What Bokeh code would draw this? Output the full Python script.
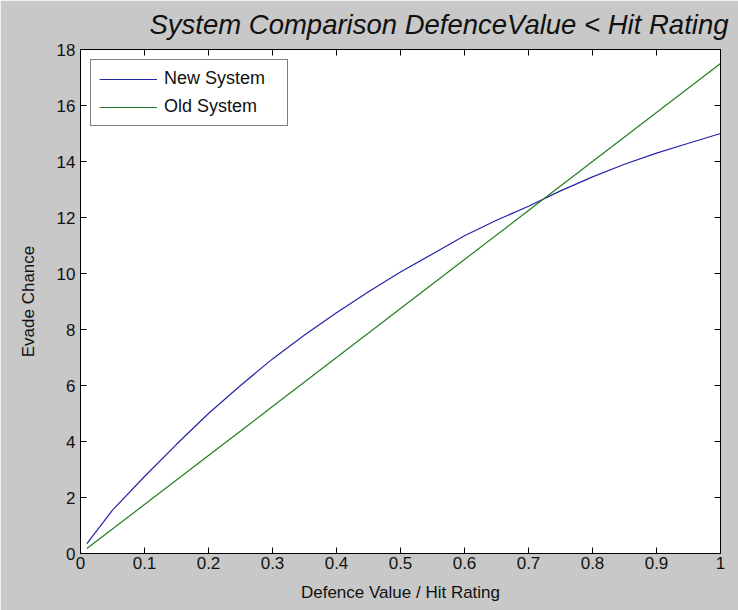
from bokeh.plotting import figure
from bokeh.models import Range1d, FixedTicker, LinearAxis, Legend, CustomLabelingPolicy
from bokeh.embed import file_html
from bokeh.resources import INLINE

# ---- data ----
title_text = "System Comparison DefenceValue < Hit Rating"
x_label = "Defence Value / Hit Rating"
y_label = "Evade Chance"

x_new = [0.01, 0.05, 0.10, 0.15, 0.20, 0.25, 0.30, 0.35, 0.40, 0.45, 0.50,
         0.55, 0.60, 0.65, 0.70, 0.75, 0.80, 0.85, 0.90, 0.95, 1.00]
new_system = [0.35, 1.55, 2.75, 3.9, 5.0, 6.0, 6.95, 7.8, 8.6, 9.35, 10.05,
              10.7, 11.35, 11.9, 12.4, 12.95, 13.45, 13.9, 14.3, 14.65, 15.0]

x_old = [0.01, 0.10, 0.20, 0.30, 0.40, 0.50, 0.60, 0.70, 0.80, 0.90, 1.00]
old_system = [0.18, 1.75, 3.5, 5.25, 7.0, 8.75, 10.5, 12.25, 14.0, 15.75, 17.5]

x_ticks = [0, 0.1, 0.2, 0.3, 0.4, 0.5, 0.6, 0.7, 0.8, 0.9, 1]
x_tick_labels = ["0", "0.1", "0.2", "0.3", "0.4", "0.5", "0.6", "0.7", "0.8", "0.9", "1"]
y_ticks = [0, 2, 4, 6, 8, 10, 12, 14, 16, 18]
y_tick_labels = ["0", "2", "4", "6", "8", "10", "12", "14", "16", "18"]

# ---- styling ----
FONT = "Liberation Sans"
BG = "#c8c8c8"
BLUE = "#2424a8"
GREEN = "#237f23"

p = figure(width=738, height=610, output_backend="svg", toolbar_location=None,
           x_range=Range1d(0, 1), y_range=Range1d(0, 18),
           min_border_left=80, min_border_right=18, min_border_top=49, min_border_bottom=57)
p.border_fill_color = BG
p.background_fill_color = "white"
p.outline_line_color = "black"
p.outline_line_width = 1
p.grid.visible = False

r_new = p.line(x_new, new_system, line_color=BLUE, line_width=1.2)
r_old = p.line(x_old, old_system, line_color=GREEN, line_width=1.2)

no_labels = CustomLabelingPolicy(code="""
const r = indices.clone();
for (let i = 0; i < r.size; i++) { r.unset(i); }
return r;
""")

def style_axis(ax, show_labels=True):
    ax.major_tick_in = 6
    ax.major_tick_out = 0
    ax.minor_tick_line_color = None
    ax.axis_line_color = "black"
    ax.major_tick_line_color = "black"
    ax.major_label_text_font = FONT
    ax.major_label_text_color = "#111111"
    ax.axis_label_text_font = FONT
    ax.axis_label_text_font_style = "normal"
    ax.axis_label_text_color = "#111111"
    if show_labels:
        ax.major_label_text_font_size = "17px"
        ax.axis_label_text_font_size = "17px"
    else:
        ax.major_label_policy = no_labels
        ax.major_label_text_font_size = "1px"
        ax.major_label_standoff = 0

xa = p.xaxis[0]
ya = p.yaxis[0]
xa.ticker = FixedTicker(ticks=x_ticks)
ya.ticker = FixedTicker(ticks=y_ticks)
xa.major_label_overrides = {t: l for t, l in zip(x_ticks, x_tick_labels)}
ya.major_label_overrides = {t: l for t, l in zip(y_ticks, y_tick_labels)}
style_axis(xa)
style_axis(ya)
xa.axis_label = x_label
ya.axis_label = y_label
xa.major_label_standoff = 3
xa.axis_label_standoff = 11
ya.major_label_standoff = 5
ya.axis_label_standoff = 16

top = LinearAxis(ticker=FixedTicker(ticks=x_ticks))
right = LinearAxis(ticker=FixedTicker(ticks=y_ticks))
style_axis(top, False)
style_axis(right, False)
p.add_layout(top, "above")
p.add_layout(right, "right")

legend = Legend(items=[("New System", [r_new]), ("Old System", [r_old])],
                location="top_left", margin=10)
legend.label_text_font = FONT
legend.label_text_font_size = "18px"
legend.label_text_color = "#111111"
legend.border_line_color = "black"
legend.border_line_width = 1
legend.background_fill_color = "white"
legend.background_fill_alpha = 1
legend.glyph_width = 58
legend.glyph_height = 20
legend.label_height = 20
legend.label_width = 115
legend.label_standoff = 7
legend.spacing = 7
legend.padding = 8
p.add_layout(legend, "center")

p.title.text = title_text
p.title.text_font = FONT
p.title.text_font_size = "27.5px"
p.title.text_font_style = "italic"
p.title.text_color = "#111111"
p.title.vertical_align = "top"
p.title.align = "right"
p.title.offset = -8
p.title.standoff = 7

open("out.html", "w").write(file_html(p, INLINE))
